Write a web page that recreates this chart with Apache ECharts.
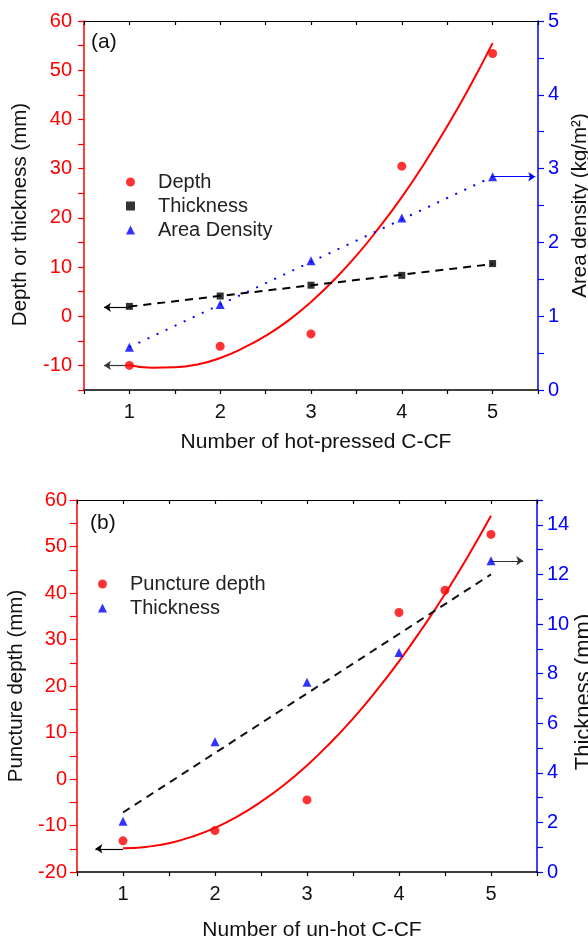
<!DOCTYPE html>
<html>
<head>
<meta charset="utf-8">
<script src="https://cdn.jsdelivr.net/npm/echarts@6/dist/echarts.min.js"></script>
<style>
html,body{margin:0;padding:0;background:#fff;}
#chart{width:588px;height:942px;}
</style>
</head>
<body>
<div id="chart"></div>
<script>
// ---------- Panel (a): hot-pressed C-CF ----------
const xA = [1, 2, 3, 4, 5];
const depthA = [-10, -6.1, -3.6, 30.5, 53.4];
const thickA = [2.0, 4.1, 6.3, 8.3, 10.7];
const densityA = [0.58, 1.16, 1.75, 2.33, 2.89];
// fitted curves
const fitXA = [1, 1.25, 1.5, 1.75, 2, 2.25, 2.5, 2.75, 3, 3.25, 3.5, 3.75, 4, 4.25, 4.5, 4.75, 5];
const depthFitA = [-9.9, -10.5, -10.4, -9.8, -8.5, -6.5, -4.0, -0.9, 2.9, 7.3, 12.3, 18.0, 24.2, 31.1, 38.6, 46.7, 55.5];
const thickFitXA = [1, 5];
const thickFitA = [1.96, 10.6];
const densityFitXA = [1, 5];
const densityFitA = [0.58, 2.89];

// ---------- Panel (b): un-hot C-CF ----------
const xB = [1, 2, 3, 4, 4.5, 5];
const punctureB = [-13.3, -11.1, -4.5, 35.8, 40.6, 52.6];
const xThickB = [1, 2, 3, 4, 5];
const thickB = [2.05, 5.25, 7.65, 8.85, 12.55];
const fitXB = [1, 1.25, 1.5, 1.75, 2, 2.25, 2.5, 2.75, 3, 3.25, 3.5, 3.75, 4, 4.25, 4.5, 4.75, 5];
const punctureFitB = [-14.9, -14.6, -13.8, -12.4, -10.5, -8.0, -4.9, -1.3, 2.9, 7.7, 13.0, 18.9, 25.3, 32.3, 39.8, 47.9, 56.6];
const thickFitXB = [1, 5];
const thickFitB = [2.4, 12.0];

// arrows [from, to] in data units
const arrowDepthA = [[1, -10], [0.72, -10]];
const arrowThickA = [[1, 1.8], [0.72, 1.8]];
const arrowDensA = [[5, 2.89], [5.47, 2.89]];
const arrowPunctB = [[1, -15], [0.7, -15]];
const arrowThickB = [[5, 12.55], [5.35, 12.55]];

const zip = (xs, ys) => xs.map((x, i) => [x, ys[i]]);
const FONT = '"Liberation Sans", Arial, sans-serif';
const RED = '#ff0000', BLUE = '#0000ff', BLK = '#000000';

function arrow(pts, color) {
  return {
    silent: true, animation: false,
    symbol: ['none', 'arrow'], symbolSize: 7,
    label: {show: false},
    lineStyle: {color: color, width: 1.2, type: 'solid'},
    data: [[{coord: pts[0]}, {coord: pts[1]}]]
  };
}
const isInt = v => Math.abs(v - Math.round(v)) < 1e-6;

function xBottom(grid, name, gap) {
  return {
    gridIndex: grid, type: 'value', position: 'bottom', min: 0.5, max: 5.5, interval: 0.5,
    axisLine: {onZero: false, lineStyle: {color: BLK, width: 1.5}},
    axisTick: {inside: false, length: 4, lineStyle: {color: BLK, width: 1.2}},
    axisLabel: {color: '#111', fontSize: 20, fontFamily: FONT, margin: 12,
      formatter: v => (isInt(v) && v >= 1 && v <= 5) ? String(Math.round(v)) : ''},
    splitLine: {show: false},
    name: name, nameLocation: 'middle', nameGap: gap,
    nameTextStyle: {color: '#111', fontSize: 21, fontFamily: FONT, padding: [0, 0, 0, 10]}
  };
}
function xTop(grid) {
  return {
    gridIndex: grid, type: 'value', position: 'top', min: 0.5, max: 5.5, interval: 0.5,
    axisLine: {onZero: false, lineStyle: {color: BLK, width: 1.2}},
    axisTick: {inside: true, length: 4, lineStyle: {color: BLK, width: 1.2}},
    axisLabel: {show: false}, splitLine: {show: false}
  };
}

const option = {
  animation: false,
  textStyle: {fontFamily: FONT},
  grid: [
    {left: 84, top: 21, width: 454, height: 369, outerBoundsMode: 'none', containLabel: false},
    {left: 77, top: 500, width: 460, height: 372, outerBoundsMode: 'none', containLabel: false}
  ],
  xAxis: [
    xBottom(0, 'Number of hot-pressed C-CF', 42),
    xTop(0),
    xBottom(1, 'Number of un-hot C-CF', 48),
    xTop(1)
  ],
  yAxis: [
    {
      gridIndex: 0, type: 'value', position: 'left', min: -15, max: 60, interval: 5,
      axisLine: {show: true, onZero: false, lineStyle: {color: RED, width: 1.5}},
      axisTick: {show: true, length: 6, lineStyle: {color: RED, width: 1.2}},
      axisLabel: {color: RED, fontSize: 20, fontFamily: FONT, margin: 12, showMaxLabel: true, showMinLabel: true,
        formatter: v => (Math.round(v) % 10 === 0) ? String(Math.round(v)) : ''},
      splitLine: {show: false},
      name: 'Depth or thickness (mm)', nameLocation: 'middle', nameRotate: 90, nameGap: 53,
      nameTextStyle: {color: '#111', fontSize: 20.5, fontFamily: FONT, padding: [0, 18, 0, 0]}
    },
    {
      gridIndex: 0, type: 'value', position: 'right', min: 0, max: 5, interval: 0.5,
      axisLine: {show: true, onZero: false, lineStyle: {color: BLUE, width: 1.5}},
      axisTick: {show: true, length: 6, lineStyle: {color: BLUE, width: 1.2}},
      axisLabel: {color: BLUE, fontSize: 20, fontFamily: FONT, margin: 10, showMaxLabel: true, showMinLabel: true,
        formatter: v => isInt(v) ? String(Math.round(v)) : ''},
      splitLine: {show: false},
      name: 'Area density (kg/m²)', nameLocation: 'middle', nameRotate: 90, nameGap: 31,
      nameTextStyle: {color: '#111', fontSize: 20.5, fontFamily: FONT}
    },
    {
      gridIndex: 1, type: 'value', position: 'left', min: -20, max: 60, interval: 5,
      axisLine: {show: true, onZero: false, lineStyle: {color: RED, width: 1.5}},
      axisTick: {show: true, length: 7, lineStyle: {color: RED, width: 1.2}},
      axisLabel: {color: RED, fontSize: 20, fontFamily: FONT, margin: 10, showMaxLabel: true, showMinLabel: true,
        formatter: v => (Math.round(v) % 10 === 0) ? String(Math.round(v)) : ''},
      splitLine: {show: false},
      name: 'Puncture depth (mm)', nameLocation: 'middle', nameRotate: 90, nameGap: 48,
      nameTextStyle: {color: '#111', fontSize: 20.5, fontFamily: FONT}
    },
    {
      gridIndex: 1, type: 'value', position: 'right', min: 0, max: 15, interval: 1,
      axisLine: {show: true, onZero: false, lineStyle: {color: BLUE, width: 1.5}},
      axisTick: {show: true, length: 6, lineStyle: {color: BLUE, width: 1.2}},
      axisLabel: {color: BLUE, fontSize: 20, fontFamily: FONT, margin: 10, showMaxLabel: true, showMinLabel: true,
        formatter: v => (Math.round(v) % 2 === 0 && v <= 14) ? String(Math.round(v)) : ''},
      splitLine: {show: false},
      name: 'Thickness (mm)', nameLocation: 'middle', nameRotate: 90, nameGap: 36, nameMoveOverlap: false,
      nameTextStyle: {color: '#111', fontSize: 22, fontFamily: FONT, padding: [0, 12, 0, 0]}
    }
  ],
  legend: [
    {
      data: ['Depth', 'Thickness', 'Area Density'], orient: 'vertical', left: 121, top: 167,
      itemWidth: 9, itemHeight: 9, itemGap: 4, selectedMode: false,
      textStyle: {fontSize: 20, color: '#222', fontFamily: FONT, padding: [0, 0, 0, 18], lineHeight: 20}
    },
    {
      data: ['Puncture depth', 'Thickness '], orient: 'vertical', left: 93, top: 569,
      itemWidth: 9, itemHeight: 9, itemGap: 4, selectedMode: false,
      textStyle: {fontSize: 20, color: '#222', fontFamily: FONT, padding: [0, 0, 0, 18], lineHeight: 20}
    }
  ],
  graphic: [
    {type: 'text', left: 91, top: 32, style: {text: '(a)', fontSize: 21, fontFamily: FONT, fill: '#111'}},
    {type: 'text', left: 90, top: 513, style: {text: '(b)', fontSize: 21, fontFamily: FONT, fill: '#111'}}
  ],
  series: [
    // ----- panel (a) -----
    {type: 'line', name: 'depthFitA', xAxisIndex: 0, yAxisIndex: 0, data: zip(fitXA, depthFitA),
      smooth: true, showSymbol: false, lineStyle: {color: RED, width: 2}, z: 2, silent: true},
    {type: 'line', name: 'thickFitA', xAxisIndex: 0, yAxisIndex: 0, data: zip(thickFitXA, thickFitA),
      showSymbol: false, lineStyle: {color: BLK, width: 2, type: [8, 6]}, z: 2, silent: true},
    {type: 'line', name: 'densFitA', xAxisIndex: 0, yAxisIndex: 1, data: zip(densityFitXA, densityFitA),
      showSymbol: false, lineStyle: {color: BLUE, width: 2, type: [2, 8]}, z: 2, silent: true},
    {type: 'scatter', name: 'Depth', xAxisIndex: 0, yAxisIndex: 0, data: zip(xA, depthA),
      symbol: 'circle', symbolSize: 9, itemStyle: {color: RED}, z: 5, markLine: arrow(arrowDepthA, '#333')},
    {type: 'scatter', name: 'Thickness', xAxisIndex: 0, yAxisIndex: 0, data: zip(xA, thickA),
      symbol: 'rect', symbolSize: 7, itemStyle: {color: BLK}, z: 5, markLine: arrow(arrowThickA, BLK)},
    {type: 'scatter', name: 'Area Density', xAxisIndex: 0, yAxisIndex: 1, data: zip(xA, densityA),
      symbol: 'triangle', symbolSize: 9, itemStyle: {color: BLUE}, z: 5, markLine: arrow(arrowDensA, BLUE)},
    // ----- panel (b) -----
    {type: 'line', name: 'punctFitB', xAxisIndex: 2, yAxisIndex: 2, data: zip(fitXB, punctureFitB),
      smooth: true, showSymbol: false, lineStyle: {color: RED, width: 2}, z: 2, silent: true},
    {type: 'line', name: 'thickFitB', xAxisIndex: 2, yAxisIndex: 3, data: zip(thickFitXB, thickFitB),
      showSymbol: false, lineStyle: {color: '#111', width: 2, type: [8, 6]}, z: 2, silent: true},
    {type: 'scatter', name: 'Puncture depth', xAxisIndex: 2, yAxisIndex: 2, data: zip(xB, punctureB),
      symbol: 'circle', symbolSize: 9, itemStyle: {color: RED}, z: 5, markLine: arrow(arrowPunctB, BLK)},
    {type: 'scatter', name: 'Thickness ', xAxisIndex: 2, yAxisIndex: 3, data: zip(xThickB, thickB),
      symbol: 'triangle', symbolSize: 9, itemStyle: {color: BLUE}, z: 5, markLine: arrow(arrowThickB, '#333')}
  ]
};

const chart = echarts.init(document.getElementById('chart'), null, {renderer: 'canvas'});
chart.setOption(option);
</script>
</body>
</html>
